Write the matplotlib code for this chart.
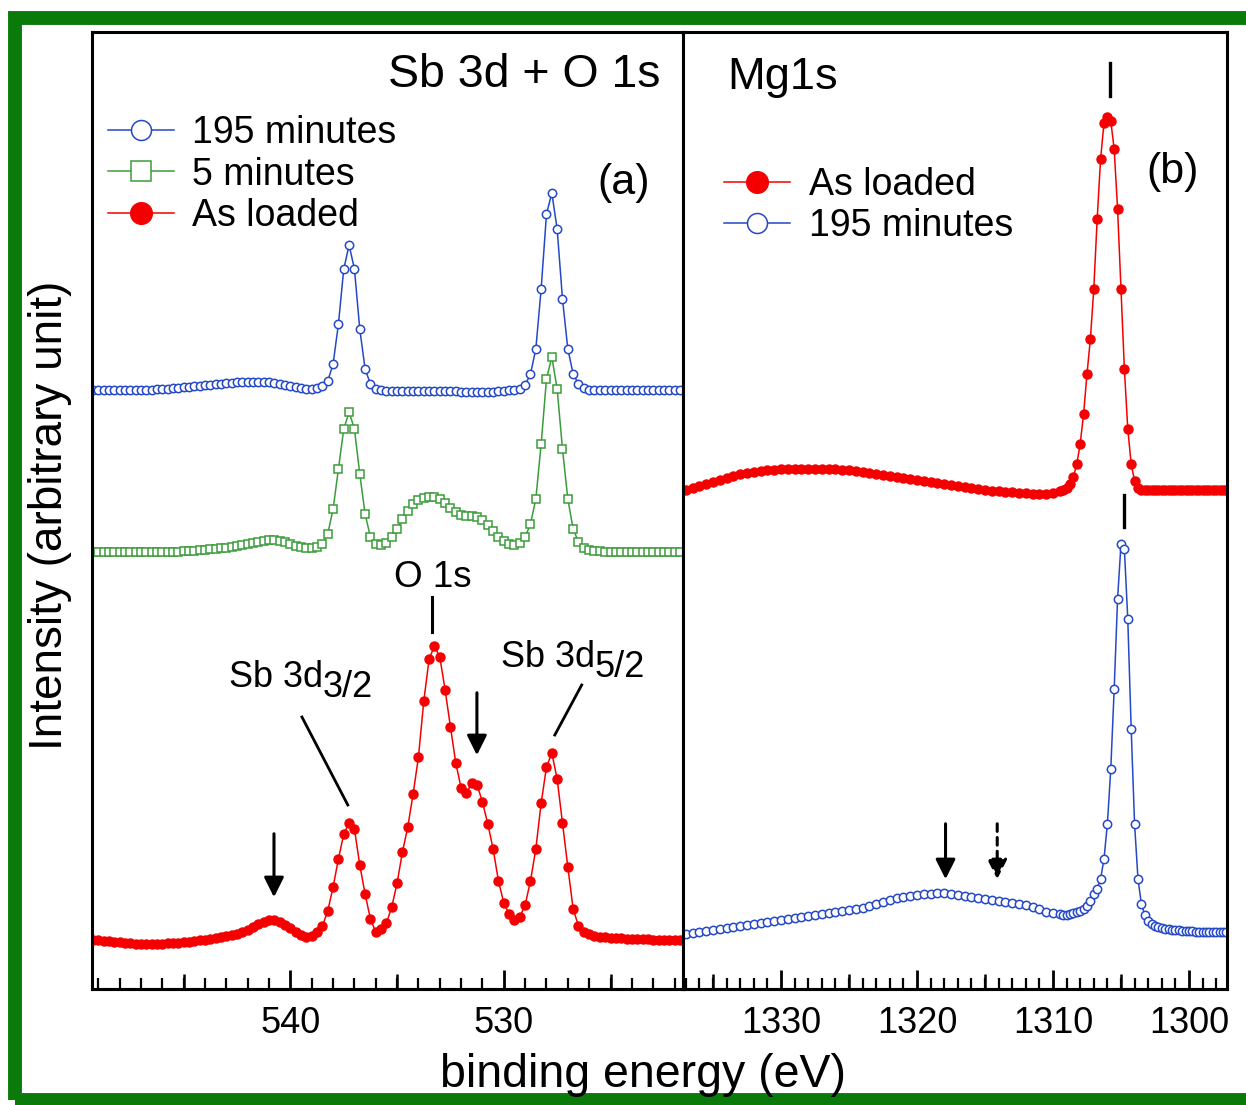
import numpy as np
import matplotlib
matplotlib.use('Agg')
import matplotlib.pyplot as plt
import matplotlib.transforms as mtransforms
from matplotlib.patches import Rectangle
from matplotlib.ticker import MultipleLocator

plt.rcParams['font.family'] = ['Liberation Sans', 'DejaVu Sans']

# ==========================================
# Data (intensities in arbitrary units)
# ==========================================
# Sb 3d + O 1s region, 549.25 -> 521.75 eV, 0.25 eV step
sb_195 = [599, 599, 599, 599, 599, 599, 599, 599, 599, 599,
          599, 599, 600, 600, 600, 601, 601, 602, 602, 603,
          603, 604, 604, 605, 605, 606, 606, 607, 607, 607,
          607, 607, 607, 607, 606, 605, 604, 603, 602, 601,
          600, 600, 601, 603, 608, 625, 665, 720, 744, 720,
          660, 620, 605, 600, 599, 598, 598, 598, 598, 598,
          598, 598, 598, 598, 598, 598, 598, 598, 598, 597,
          597, 597, 597, 597, 597, 597, 598, 598, 599, 599,
          600, 604, 615, 640, 700, 775, 796, 760, 690, 640,
          615, 605, 601, 599, 599, 599, 599, 599, 599, 599,
          599, 599, 599, 599, 599, 599, 599, 599, 599, 599,
          599]
sb_5 = [437, 437, 437, 437, 437, 437, 437, 437, 437, 437,
        437, 437, 437, 437, 437, 437, 437, 438, 438, 438,
        439, 439, 440, 440, 441, 441, 442, 443, 444, 445,
        446, 447, 448, 449, 449, 448, 447, 445, 443, 442,
        441, 441, 442, 445, 455, 480, 520, 560, 577, 560,
        515, 475, 452, 445, 444, 446, 452, 460, 470, 478,
        485, 489, 491, 492, 492, 490, 486, 481, 477, 474,
        473, 473, 472, 469, 464, 458, 452, 448, 445, 444,
        446, 452, 465, 490, 545, 610, 632, 600, 540, 490,
        460, 447, 441, 439, 438, 438, 437, 437, 437, 437,
        437, 437, 437, 437, 437, 437, 437, 437, 437, 437,
        437]
sb_loaded = [49, 49, 48, 48, 47, 47, 46, 46, 45, 45,
             45, 45, 45, 45, 46, 46, 46, 47, 47, 48,
             49, 49, 50, 51, 52, 53, 54, 55, 57, 59,
             62, 65, 67, 69, 69, 67, 64, 61, 57, 54,
             52, 53, 57, 63, 78, 102, 130, 155, 166, 160,
             124, 95, 70, 57, 60, 66, 82, 106, 137, 162,
             195, 232, 288, 330, 343, 332, 299, 262, 226, 201,
             196, 206, 204, 187, 165, 140, 108, 86, 75, 69,
             72, 84, 108, 140, 186, 222, 236, 210, 166, 122,
             80, 63, 57, 55, 53, 52, 52, 51, 51, 51,
             50, 50, 50, 50, 50, 49, 49, 49, 49, 49,
             49]
e_sb = np.linspace(549.25, 521.75, len(sb_loaded))

# Mg 1s region: 1337.0 -> 1309.5 eV (0.5 eV step), 1309.25 -> 1297.25 eV (0.25 eV step)
mg_loaded = [499, 501, 503, 505, 507, 509, 511, 513, 515, 516,
             517, 518, 519, 519, 520, 520, 520, 520, 520, 520,
             520, 520, 520, 519, 519, 518, 517, 516, 515, 514,
             513, 512, 511, 510, 509, 508, 507, 506, 505, 504,
             503, 502, 501, 500, 499, 498, 498, 497, 497, 496,
             496, 495, 495, 495, 496, 498,
             499, 501, 505, 512, 525, 545, 575, 615, 650, 700,
             770, 830, 866, 872, 868, 840, 780, 700, 620, 560,
             525, 508, 501, 499, 499, 499, 499, 499, 499, 499,
             499, 499, 499, 499, 499, 499, 499, 499, 499, 499,
             499, 499, 499, 499, 499, 499, 499, 499, 499]
mg_195 = [55, 56, 57, 58, 59, 60, 61, 62, 63, 64,
          65, 66, 67, 68, 69, 70, 71, 72, 73, 74,
          75, 76, 77, 78, 79, 80, 81, 83, 85, 87,
          89, 91, 92, 93, 94, 95, 95, 96, 96, 95,
          94, 93, 92, 91, 90, 89, 88, 87, 86, 85,
          84, 82, 80, 77, 76, 75,
          74, 74, 75, 76, 77, 78, 80, 83, 88, 95,
          100, 110, 130, 165, 220, 300, 390, 445, 440, 370,
          260, 165, 110, 85, 74, 68, 65, 63, 62, 61,
          60, 60, 59, 59, 59, 58, 58, 58, 58, 57,
          57, 57, 57, 57, 57, 57, 57, 57, 57]
e_mg = np.concatenate([np.linspace(1337.0, 1309.5, 56),
                       np.linspace(1309.25, 1297.25, 49)])

RED = '#f40000'
BLUE = '#2448c8'
GREEN = '#3a9c3a'

fig = plt.figure(figsize=(12.46, 11.05), dpi=100)
ax1 = fig.add_axes([0.0738, 0.1050, 0.4744, 0.8660])
ax2 = fig.add_axes([0.5482, 0.1050, 0.4366, 0.8660])


def style_axis(ax, xlim, major, medium):
    ax.set_xlim(*xlim)
    ax.set_ylim(0, 957)
    ax.xaxis.set_major_locator(MultipleLocator(major))
    ax.xaxis.set_minor_locator(MultipleLocator(1))
    ax.tick_params(axis='x', which='major', direction='in', length=14, width=2,
                   labelsize=26, pad=12)
    ax.tick_params(axis='x', which='minor', direction='in', length=8, width=1.6)
    ax.set_yticks([])
    for sp in ax.spines.values():
        sp.set_linewidth(2.2)
    # medium ticks every 5 eV
    sec = ax.secondary_xaxis('bottom')
    sec.set_xticks(medium)
    sec.tick_params(direction='in', length=10.5, width=1.8, labelbottom=False)
    sec.spines['bottom'].set_linewidth(2.2)


leg_kw = dict(loc='upper left', frameon=False, fontsize=27, markerscale=2.4,
              handlelength=1.75, handletextpad=0.5, labelspacing=0.14,
              borderpad=0, borderaxespad=0)

# ---------- (a) Sb 3d + O 1s ----------
l195, = ax1.plot(e_sb, sb_195, '-o', color=BLUE, lw=1.1, ms=6, mfc='white',
                 mec=BLUE, mew=1.1)
l5, = ax1.plot(e_sb, sb_5, '-s', color=GREEN, lw=1.1, ms=6, mfc='white',
               mec=GREEN, mew=1.1)
lal, = ax1.plot(e_sb, sb_loaded, '-o', color=RED, lw=1.1, ms=6.5, mfc=RED,
                mec=RED)
style_axis(ax1, (549.3, 521.6), 10, [545, 535, 525])

ax1.legend([l195, l5, lal], ['195 minutes', '5 minutes', 'As loaded'],
           bbox_to_anchor=(0.027, 0.913), **leg_kw)
ax1.text(0.961, 0.955, 'Sb 3d + O 1s', transform=ax1.transAxes, ha='right',
         va='center', fontsize=33.5)
ax1.text(0.90, 0.842, '(a)', transform=ax1.transAxes, ha='center',
         va='center', fontsize=31)

# peak labels
ax1.text(533.33, 402, 'O 1s', ha='center', va='baseline', fontsize=26.5)
ax1.plot([533.37, 533.37], [357, 392], color='k', lw=2.2)
sub = mtransforms.offset_copy(ax1.transData, fig=fig, x=0, y=-7, units='points')
ax1.text(538.48, 302, 'Sb 3d', ha='right', va='baseline', fontsize=26)
ax1.text(538.48, 302, '3/2', ha='left', va='baseline', fontsize=26, transform=sub)
ax1.plot([539.46, 537.31], [272, 184], color='k', lw=2)
ax1.text(525.74, 322, 'Sb 3d', ha='right', va='baseline', fontsize=26)
ax1.text(525.74, 322, '5/2', ha='left', va='baseline', fontsize=26, transform=sub)
ax1.plot([526.35, 527.61], [304, 254], color='k', lw=2)
arrow = dict(arrowstyle='-|>', color='k', lw=2.2, mutation_scale=30)
ax1.annotate('', xy=(540.77, 89), xytext=(540.77, 158), arrowprops=arrow)
ax1.annotate('', xy=(531.26, 231), xytext=(531.26, 299), arrowprops=arrow)

# ---------- (b) Mg 1s ----------
m_al, = ax2.plot(e_mg, mg_loaded, '-o', color=RED, lw=1.1, ms=6.5, mfc=RED,
                 mec=RED)
m_195, = ax2.plot(e_mg, mg_195, '-o', color=BLUE, lw=1.1, ms=6, mfc='white',
                  mec=BLUE, mew=1.1)
style_axis(ax2, (1337.2, 1297.2), 10, [1335, 1325, 1315, 1305])

ax2.legend([m_al, m_195], ['As loaded', '195 minutes'],
           bbox_to_anchor=(0.076, 0.859), **leg_kw)
ax2.text(0.081, 0.953, 'Mg1s', transform=ax2.transAxes, ha='left',
         va='center', fontsize=32.5)
ax2.text(0.90, 0.854, '(b)', transform=ax2.transAxes, ha='center',
         va='center', fontsize=31)
ax2.plot([1305.8, 1305.8], [893, 926], color='k', lw=2.4)
ax2.plot([1304.8, 1304.8], [462, 494], color='k', lw=2.4)
ax2.annotate('', xy=(1317.9, 107), xytext=(1317.9, 168), arrowprops=arrow)
ax2.annotate('', xy=(1314.1, 107), xytext=(1314.1, 168),
             arrowprops=dict(arrow, linestyle=(0, (2.5, 2))))

# ---------- labels and frame ----------
fig.text(0.516, 0.016, 'binding energy (eV)', ha='center', va='baseline',
         fontsize=33.5)
fig.text(0.040, 0.534, 'Intensity (arbitrary unit)', ha='center',
         va='center', rotation=90, fontsize=33)
fig.add_artist(Rectangle((0.012, 0.0045), 0.990, 0.979,
                         transform=fig.transFigure, fill=False,
                         ec='#0a7a0a', lw=10, clip_on=False))

fig.savefig('out.png', dpi=100)
